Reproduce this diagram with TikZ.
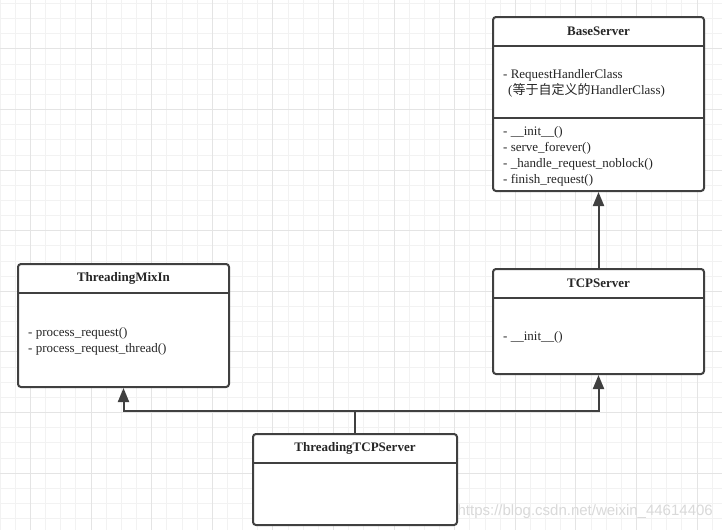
\documentclass[tikz,border=0pt]{standalone}
\usepackage{fontspec}
\setmainfont{Liberation Serif}
\newfontfamily\cjk{Noto Sans CJK SC}
\newfontfamily\markfont{Liberation Sans}
\usetikzlibrary{arrows.meta}
\definecolor{umlLine}{HTML}{404040}
\definecolor{gridMinor}{HTML}{F2F2F2}
\definecolor{gridMajor}{HTML}{E4E4E4}

\begin{document}
\begin{tikzpicture}[x=1pt,y=-1pt,
		classbox/.style={draw=umlLine, line width=2pt, rounded corners=3pt, fill=white, minimum width=211pt, inner sep=0pt},
		classname/.style={font=\fontsize{13}{16}\selectfont\bfseries, text=black!85},
		member/.style={font=\fontsize{13}{16}\selectfont, align=left, anchor=west, inner sep=0pt, text=black!85},
		divider/.style={draw=umlLine, line width=2pt},
		inherit/.style={draw=umlLine, line width=2pt, -{Triangle[length=14pt,width=11pt]}}]
		\useasboundingbox[fill=white] (0,0) rectangle (722,530);
		% background grid
		\foreach \gx in {0.2,15.35,...,722}
		{\draw[gridMinor, line width=1pt] (\gx,0) -- (\gx,530);}
		\foreach \gy in {3.5,18.65,...,530}
		{\draw[gridMinor, line width=1pt] (0,\gy) -- (722,\gy);}
		\foreach \gx in {30.5,91.1,...,722}
		{\draw[gridMajor, line width=1pt] (\gx,0) -- (\gx,530);}
		\foreach \gy in {48.9,109.5,...,530}
		{\draw[gridMajor, line width=1pt] (0,\gy) -- (722,\gy);}
		% classes
		\node[classbox, minimum height=174pt] (base) at (598.5,104) {};
		\node[classbox, minimum height=105pt] (tcp) at (598.5,321.5) {};
		\node[classbox, minimum height=123pt] (mixin) at (123.5,325.5) {};
		\node[classbox, minimum width=204pt, minimum height=91pt] (ttcp) at (355,479.5) {};
		\foreach \cls/\name in {
			base/BaseServer,
			tcp/TCPServer,
			mixin/ThreadingMixIn,
			ttcp/ThreadingTCPServer
		}{
			\node[classname] (\cls-name) at ([yshift=-15pt]\cls.north) {\name};
			\draw[divider] ([yshift=-30pt]\cls.north west) -- ([yshift=-30pt]\cls.north east);
		}
		\draw[divider] ([yshift=-102pt]base.north west) -- ([yshift=-102pt]base.north east);
		% members
		\node[member] (base-attr) at (503,83.5) {- RequestHandlerClass\\\hspace*{5pt}({\cjk 等于自定义的}HandlerClass)};
		\node[member] (base-ops) at (503,156) {- \_\_init\_\_()\\- serve\_forever()\\- \_handle\_request\_noblock()\\- finish\_request()};
		\node[member] (tcp-ops) at (503,337) {- \_\_init\_\_()};
		\node[member] (mixin-ops) at (28,341) {- process\_request()\\- process\_request\_thread()};
		% inheritance
		\coordinate (split) at (355,411);
		\draw[divider] (ttcp.north) -- (split);
		\draw[inherit] (split) -| (mixin.south);
		\draw[inherit] (split) -| (tcp.south);
		\draw[inherit] (tcp.north) -- (base.south);
		\node[font=\markfont\fontsize{15}{15}\selectfont, text=gray!30, anchor=east, inner sep=0pt] (mark) at (713,512) {https://blog.csdn.net/weixin\_44614406};
\end{tikzpicture}
\end{document}
